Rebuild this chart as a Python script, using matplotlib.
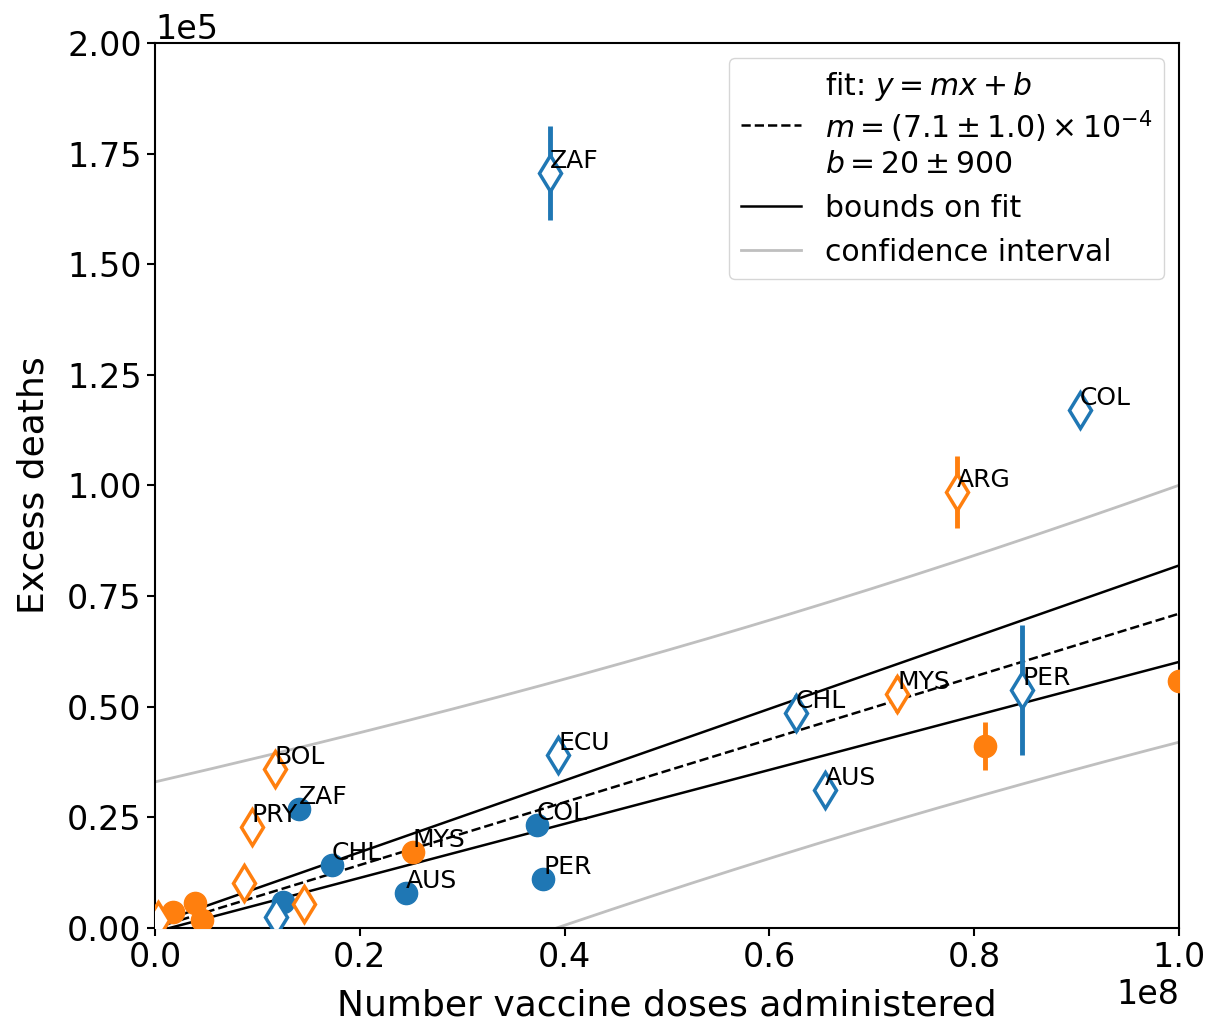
import numpy as np
import matplotlib
matplotlib.use("Agg")
import matplotlib.pyplot as plt

# blue, filled circles
bc_lab = ["ZAF", "CHL", "", "AUS", "COL", "PER"]
bc_x = [1.41e7, 1.73e7, 1.25e7, 2.45e7, 3.73e7, 3.79e7]
bc_y = [26900, 14200, 5900, 7900, 23300, 11100]
bc_err = [500, 500, 500, 500, 500, 500]

# blue, open diamonds
bd_lab = ["ZAF", "COL", "CHL", "ECU", "AUS", "PER", ""]
bd_x = [3.86e7, 9.03e7, 6.26e7, 3.94e7, 6.54e7, 8.47e7, 1.18e7]
bd_y = [170600, 117000, 48600, 39100, 31200, 53800, 2500]
bd_err = [10700, 1500, 4000, 1500, 1500, 14700, 1000]

# orange, filled circles
oc_lab = ["MYS", "", "", "", "", ""]
oc_x = [2.52e7, 8.11e7, 1.0e8, 1.76e6, 3.9e6, 4.6e6]
oc_y = [17200, 41100, 55800, 3600, 5600, 1800]
oc_err = [800, 5400, 1500, 500, 500, 500]

# orange, open diamonds
od_lab = ["BOL", "PRY", "", "", "", "ARG", "MYS"]
od_x = [1.17e7, 9.47e6, 8.7e6, 1.455e7, 3e5, 7.83e7, 7.25e7]
od_y = [35900, 22800, 10200, 5400, 1800, 98500, 52900]
od_err = [1500, 1500, 1500, 1500, 1000, 8100, 4000]

# fit y = m x + b
m, dm = 7.1e-4, 1.0e-4
b, db = 20, 900
# confidence band half width: sqrt(h0^2 + k^2 (x - xc)^2)
ci_h0, ci_k, ci_xc = 26900, 30.0e3 / 1e8, 0.636e8

blue = "#1f77b4"
orange = "#ff7f0e"

fig = plt.figure(figsize=(12.1, 10.22), dpi=100)
ax = fig.add_axes([0.128, 0.092, 0.8464, 0.866])

xx = np.linspace(0, 1e8, 300)
half = np.sqrt(ci_h0**2 + (ci_k * (xx - ci_xc))**2)
fit_lab = ("fit: $y = mx + b$\n$m = (7.1 \\pm 1.0) \\times 10^{-4}$\n"
           "$b = 20 \\pm 900$")
ax.plot(xx, m * xx + b, "k--", lw=1.8, label=fit_lab)
ax.plot(xx, (m + dm) * xx + b + db, "k-", lw=1.8, label="bounds on fit")
ax.plot(xx, (m - dm) * xx + b - db, "k-", lw=1.8)
ax.plot(xx, m * xx + b + half, color="#bfbfbf", lw=2, label="confidence interval")
ax.plot(xx, m * xx + b - half, color="#bfbfbf", lw=2)

groups = [
    (bc_lab, bc_x, bc_y, bc_err, blue, "o", blue),
    (bd_lab, bd_x, bd_y, bd_err, blue, "d", "white"),
    (oc_lab, oc_x, oc_y, oc_err, orange, "o", orange),
    (od_lab, od_x, od_y, od_err, orange, "d", "white"),
]
for lab, x, y, e, c, mk, fc in groups:
    if mk == "o":
        ax.errorbar(x, y, yerr=e, fmt=mk, color=c, mfc=fc, mec=c, ms=16,
                    elinewidth=3.5, zorder=3)
    else:
        ax.errorbar(x, y, yerr=e, fmt=mk, color=c, mfc=fc, mec=c, ms=18,
                    mew=2.5, elinewidth=3.5, zorder=3)
    for t, xi, yi in zip(lab, x, y):
        if t:
            ax.text(xi, yi, t, fontsize=18, va="bottom", zorder=4)

ax.set_xlim(0, 1e8)
ax.set_ylim(0, 2e5)
ax.ticklabel_format(axis="both", style="sci", scilimits=(0, 0))
ax.tick_params(labelsize=24, width=1.5, length=6)
ax.xaxis.get_offset_text().set_fontsize(24)
ax.yaxis.get_offset_text().set_fontsize(24)
for s in ax.spines.values():
    s.set_linewidth(1.5)
ax.set_xlabel("Number vaccine doses administered", fontsize=26, labelpad=10)
ax.set_ylabel("Excess deaths", fontsize=26, labelpad=12)
ax.legend(loc="upper right", fontsize=21.5)

fig.savefig("out.png", dpi=100)
